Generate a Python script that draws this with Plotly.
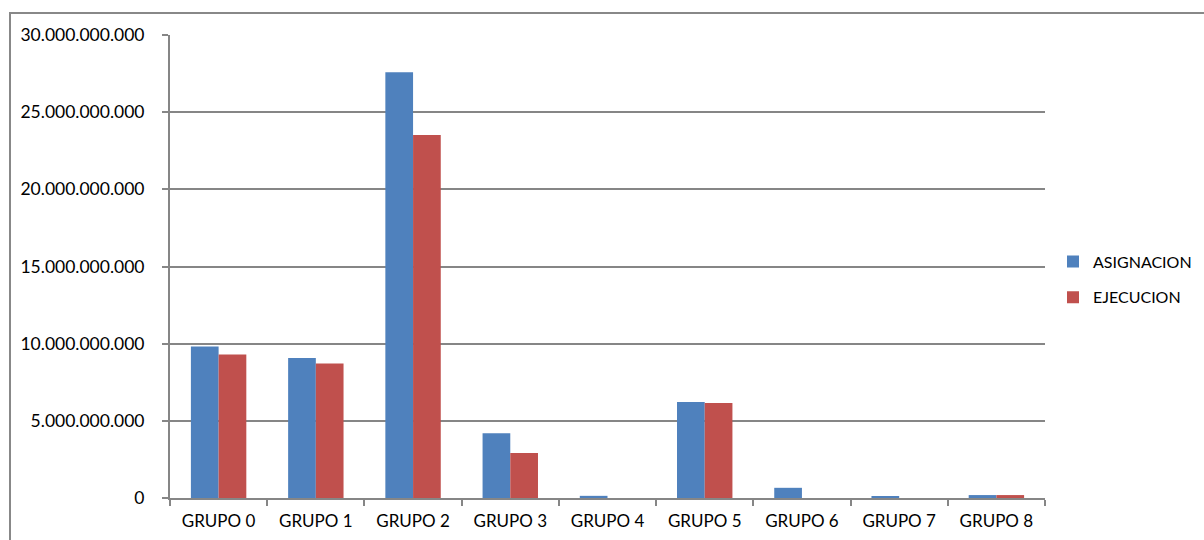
import plotly.graph_objects as go

categorias = ["GRUPO 0", "GRUPO 1", "GRUPO 2", "GRUPO 3", "GRUPO 4",
              "GRUPO 5", "GRUPO 6", "GRUPO 7", "GRUPO 8"]
asignacion = [9.81e9, 9.07e9, 27.59e9, 4.19e9, 0.14e9, 6.22e9, 0.66e9, 0.07e9, 0.19e9]
ejecucion = [9.29e9, 8.71e9, 23.52e9, 2.92e9, 0.0, 6.15e9, 0.0, 0.0, 0.19e9]
y_ticks = [0, 5e9, 10e9, 15e9, 20e9, 25e9, 30e9]

W, H = 1204, 540
L, R, T, B = 170, 159, 35, 42
pw, ph = W - L - R, H - T - B

fig = go.Figure()
fig.add_trace(go.Bar(name="ASIGNACION", x=categorias, y=asignacion,
                     marker=dict(color="#4F81BD", line=dict(width=0)),
                     legendgroup="a"))
fig.add_trace(go.Bar(name="EJECUCION", x=categorias, y=ejecucion,
                     marker=dict(color="#C0504D", line=dict(width=0)),
                     legendgroup="b"))

font = "Lato, 'Open Sans', sans-serif"
fig.update_layout(
    width=W, height=H,
    margin=dict(l=L, r=R, t=T, b=B, autoexpand=False),
    paper_bgcolor="white", plot_bgcolor="white",
    separators=",.",
    barmode="group", bargap=0.43, bargroupgap=0,
    font=dict(family=font, size=16, color="#000000"),
    legend=dict(x=(1053 - L) / pw, y=(498 - 279.5) / ph, xanchor="left", yanchor="middle",
                font=dict(family=font, size=16, color="#000000"),
                traceorder="grouped", tracegroupgap=12, itemwidth=30,
                bgcolor="rgba(0,0,0,0)"),
    xaxis=dict(showgrid=False, showline=True, linecolor="#868686", linewidth=2,
               ticks="outside", tickson="boundaries", ticklen=6, tickcolor="#868686",
               tickwidth=2, ticklabelstandoff=7,
               tickfont=dict(family=font, size=17, color="#000000")),
    yaxis=dict(range=[0, 30e9], tickvals=y_ticks, tickformat=",d",
               showgrid=True, gridcolor="#868686", gridwidth=2,
               showline=True, linecolor="#868686", linewidth=2,
               ticks="outside", ticklen=6, tickcolor="#868686", tickwidth=2,
               ticklabelstandoff=14, zeroline=False,
               tickfont=dict(family=font, size=17.5, color="#000000")),
    shapes=[dict(type="rect", xref="paper", yref="paper",
                 x0=(10 - L) / pw, x1=(W + 20 - L) / pw,
                 y0=-(B + 20) / ph, y1=1 + (T - 13) / ph,
                 line=dict(color="#888888", width=2), fillcolor="rgba(0,0,0,0)",
                 layer="below")],
)

fig.write_html("out.html", config={"displayModeBar": False},
               post_script="document.body.style.margin='0';document.body.style.overflow='hidden';")
